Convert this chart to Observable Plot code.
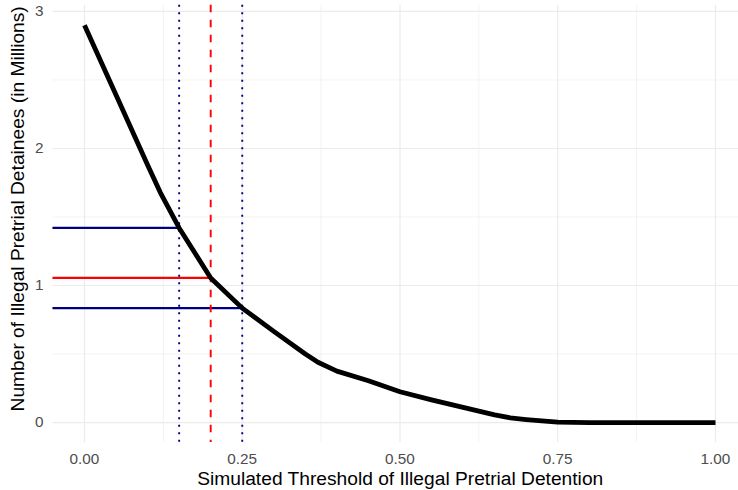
<!DOCTYPE html>
<html>
<head>
<meta charset="utf-8">
<script src="https://cdn.jsdelivr.net/npm/d3@7"></script>
<script src="https://cdn.jsdelivr.net/npm/@observablehq/plot@0.6"></script>
<style>
  html, body { margin: 0; padding: 0; background: #fff; }
  svg { display: block; }
</style>
</head>
<body>
<div id="chart"></div>
<script>
// Simulated threshold (x) and number of illegal pretrial detainees in millions (y)
const thresholdValues = [0, 0.05, 0.10, 0.12, 0.15, 0.20, 0.25, 0.30, 0.35, 0.37, 0.40, 0.45, 0.50, 0.55, 0.60, 0.65, 0.675, 0.70, 0.75, 0.80, 0.85, 0.90, 0.95, 1.00];
const detaineeValues  = [2.90, 2.39, 1.88, 1.68, 1.42, 1.055, 0.835, 0.665, 0.50, 0.44, 0.375, 0.305, 0.225, 0.165, 0.11, 0.056, 0.034, 0.022, 0.003, 0, 0, 0, 0, 0];

// Highlighted thresholds
const markThresholds = [0.15, 0.20, 0.25];
const markDetainees  = [1.42, 1.055, 0.835];
const markKinds      = ["bound", "central", "bound"];

// Tick labels / grid
const xMajorTicks = [0, 0.25, 0.5, 0.75, 1];
const xMinorTicks = [0.125, 0.375, 0.625, 0.875];
const yMajorTicks = [0, 1, 2, 3];
const yMinorTicks = [0.5, 1.5, 2.5];

const xTitle = "Simulated Threshold of Illegal Pretrial Detention";
const yTitle = "Number of Illegal Pretrial Detainees (in Millions)";

const curve = thresholdValues.map((x, i) => ({x, y: detaineeValues[i]}));
const marks = markThresholds.map((x, i) => ({x, y: markDetainees[i], kind: markKinds[i]}));

const xDomain = [-0.05, 1.0365];
const yDomain = [-0.145, 3.045];

const kindColor = k => k === "central" ? "#FF0000" : "#000080";

const chart = Plot.plot({
  width: 738,
  height: 490,
  marginLeft: 52.45,
  marginRight: 0,
  marginTop: 4.8,
  marginBottom: 48.1,
  style: {fontFamily: "'Liberation Sans', Arial, Helvetica, sans-serif", background: "#fff"},
  x: {domain: xDomain, axis: null},
  y: {domain: yDomain, axis: null},
  marks: [
    Plot.ruleX(xMinorTicks, {stroke: "#EBEBEB", strokeWidth: 0.6}),
    Plot.ruleY(yMinorTicks, {stroke: "#EBEBEB", strokeWidth: 0.6}),
    Plot.ruleX(xMajorTicks, {stroke: "#EBEBEB", strokeWidth: 1.2}),
    Plot.ruleY(yMajorTicks, {stroke: "#EBEBEB", strokeWidth: 1.2}),
    Plot.axisX(xMajorTicks, {tickSize: 0, tickPadding: 10.5, tickFormat: d3.format(".2f"), fill: "#4D4D4D", fontSize: 15.3, label: null}),
    Plot.axisY(yMajorTicks, {tickSize: 0, tickPadding: 9.5, tickFormat: d3.format("d"), fill: "#4D4D4D", fontSize: 15.3, label: null}),
    // horizontal segments from panel edge to the curve
    Plot.ruleY(marks, {y: "y", x1: () => xDomain[0], x2: "x", stroke: d => kindColor(d.kind), strokeWidth: 2.3}),
    // vertical reference lines
    Plot.ruleX(marks.filter(d => d.kind === "bound"), {x: "x", stroke: "#000080", strokeWidth: 1.9, strokeDasharray: "1.9,5.6"}),
    Plot.ruleX(marks.filter(d => d.kind === "central"), {x: "x", stroke: "#FF0000", strokeWidth: 1.9, strokeDasharray: "7.5,7.5"}),
    // curve
    Plot.line(curve, {x: "x", y: "y", stroke: "#000", strokeWidth: 4.8, strokeLinecap: "butt", strokeLinejoin: "round"}),
    // axis titles
    Plot.text([xTitle], {frameAnchor: "bottom", dx: 4.5, dy: 36, text: d => d, fontSize: 19.2, fill: "#000", lineAnchor: "middle", textAnchor: "middle"}),
    Plot.text([yTitle], {frameAnchor: "left", dx: -35, dy: -15, rotate: -90, text: d => d, fontSize: 19.2, fill: "#000", lineAnchor: "middle", textAnchor: "middle"})
  ]
});
document.getElementById("chart").appendChild(chart);
</script>
</body>
</html>
